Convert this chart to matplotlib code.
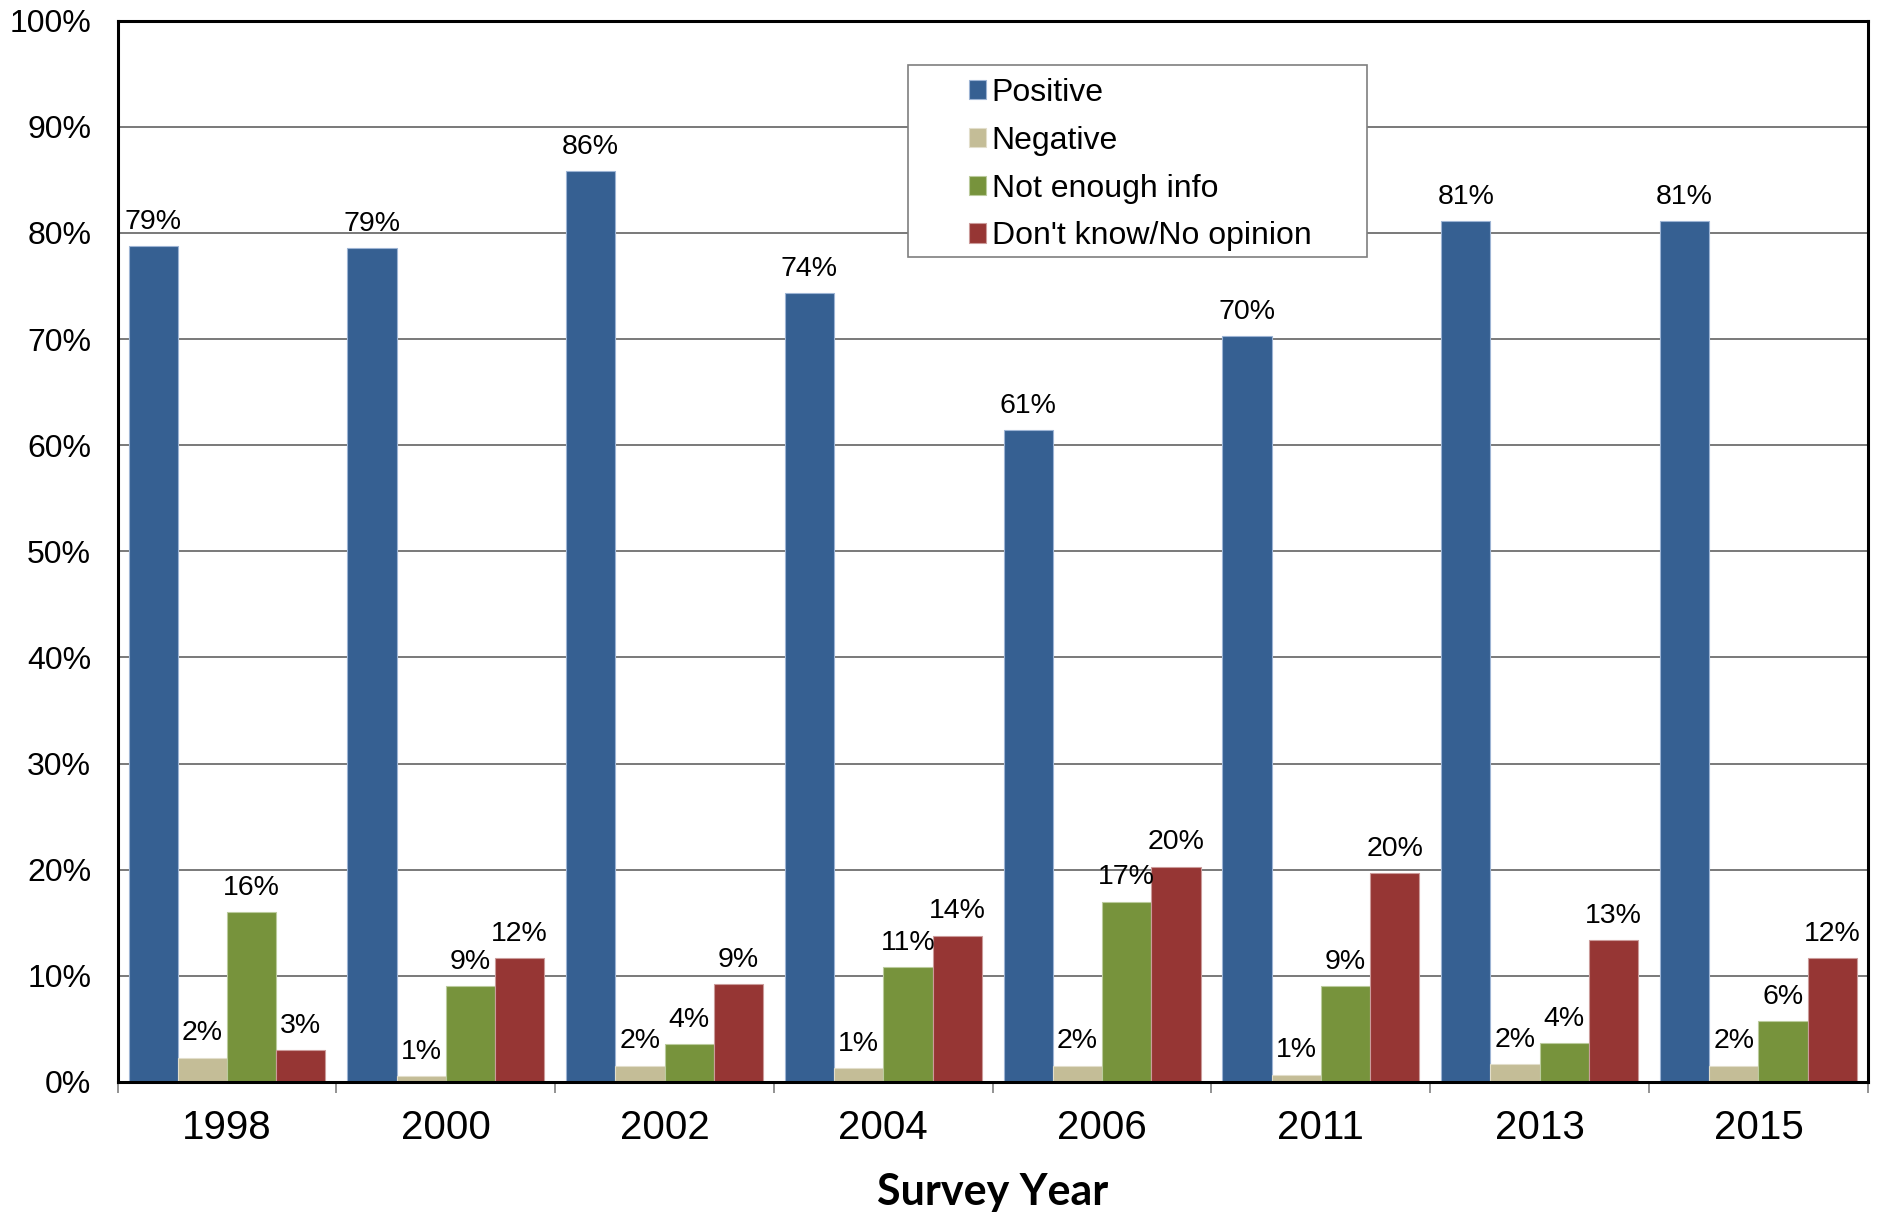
import matplotlib
matplotlib.use("Agg")
import matplotlib.pyplot as plt
import matplotlib.patches as mpatches
import numpy as np

# Survey results by year (percent of respondents)
years = ["1998", "2000", "2002", "2004", "2006", "2011", "2013", "2015"]
positive = [78.8, 78.6, 85.8, 74.3, 61.4, 70.3, 81.1, 81.1]
negative = [2.3, 0.55, 1.55, 1.3, 1.55, 0.7, 1.7, 1.55]
not_enough_info = [16.0, 9.0, 3.6, 10.8, 17.0, 9.0, 3.7, 5.7]
no_opinion = [3.0, 11.7, 9.2, 13.8, 20.3, 19.7, 13.4, 11.7]

series_names = ["Positive", "Negative", "Not enough info", "Don't know/No opinion"]
series_values = [positive, negative, not_enough_info, no_opinion]
colors = ["#366092", "#C4BD97", "#77933C", "#963634"]
edge_colors = ["#9DB4D4", "#E2DECB", "#BBCB9D", "#CB9B9A"]
y_ticks = [0, 10, 20, 30, 40, 50, 60, 70, 80, 90, 100]

plt.rcParams["font.family"] = ["Liberation Sans", "DejaVu Sans"]

fig = plt.figure(figsize=(18.81, 12.13), dpi=100)
ax = fig.add_axes([0.0625, 0.108, 0.9305, 0.875])

x = np.arange(len(years))
width = 0.225
for i, (name, vals) in enumerate(zip(series_names, series_values)):
    pos = x + (i - 1.5) * width
    ax.bar(pos, vals, width, color=colors[i], edgecolor=edge_colors[i],
           linewidth=0.8, label=name, zorder=3)
    for xi, v in zip(pos, vals):
        ax.annotate(f"{v:.0f}%", (xi, v), xytext=(0, 8), textcoords="offset points",
                    ha="center", va="bottom", fontsize=20.5, zorder=5)

ax.set_xlim(-0.5, len(years) - 0.5)
ax.set_ylim(0, 100)
ax.set_yticks(y_ticks)
ax.set_yticklabels([f"{t}%" for t in y_ticks])
ax.tick_params(axis="y", length=0, pad=19, labelsize=23)

ax.set_xticks(x)
ax.set_xticklabels(years)
ax.tick_params(axis="x", which="major", length=0, pad=19.5, labelsize=29)
ax.set_xticks(np.arange(-0.5, len(years)), minor=True)
ax.tick_params(axis="x", which="minor", length=8, width=1.2, color="#808080", direction="out")

ax.grid(axis="y", color="#6E6E6E", linewidth=1.3, zorder=0)
ax.set_axisbelow(True)
for side in ["left", "bottom", "top", "right"]:
    ax.spines[side].set_color("black")
    ax.spines[side].set_linewidth(2.2)
    ax.spines[side].set_zorder(6)

ax.set_xlabel("Survey Year", fontsize=31, fontweight="bold", family=["Lato", "DejaVu Sans"],
              labelpad=18)

# Legend box with generous left padding
frame = mpatches.Rectangle((0.4516, 0.777), 0.2622, 0.181, transform=ax.transAxes,
                           facecolor="white", edgecolor="#7F7F7F", linewidth=1.2, zorder=7)
ax.add_patch(frame)
leg = ax.legend(loc="upper left", bbox_to_anchor=(0.4862, 0.9462), frameon=False,
                fontsize=23, handlelength=0.55, handleheight=0.55, handletextpad=0.17,
                labelspacing=0.56, borderpad=0, borderaxespad=0)
leg.set_zorder(8)

fig.savefig("out.png", dpi=100)
